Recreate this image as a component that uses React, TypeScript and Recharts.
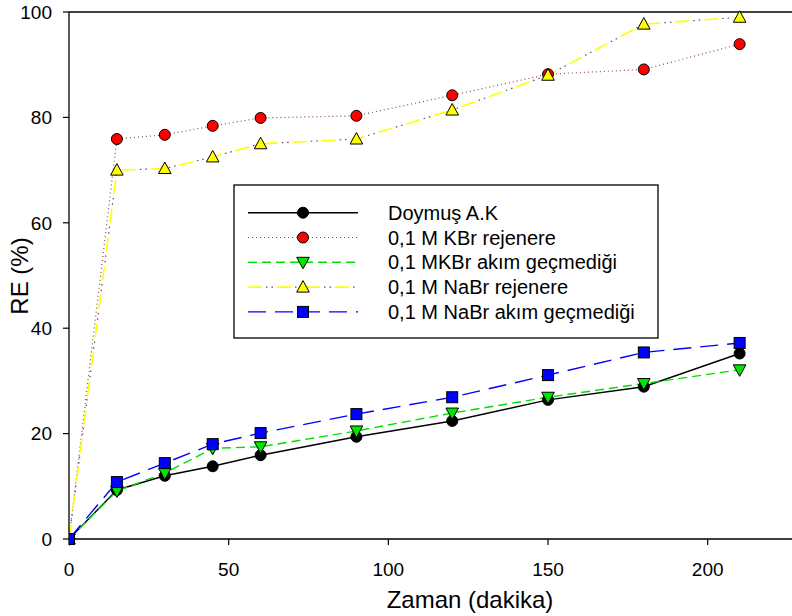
import { LineChart, Line, XAxis, YAxis, ReferenceLine } from "recharts";

// Sampling times (dakika)
const times = [0, 15, 30, 45, 60, 90, 120, 150, 180, 210];

// RE (%) per series
const doymus = [0, 9.3, 12.0, 13.8, 15.9, 19.4, 22.4, 26.4, 28.9, 35.2];
const kbrRejenere = [0, 75.9, 76.7, 78.4, 79.9, 80.3, 84.2, 88.2, 89.1, 93.9];
const kbrAkimYok = [0, 9.1, 12.5, 17.2, 17.5, 20.5, 23.9, 26.9, 29.5, 32.1];
const nabrRejenere = [0, 70.0, 70.3, 72.5, 75.0, 75.9, 81.4, 88.0, 97.7, 99.0];
const nabrAkimYok = [0, 10.8, 14.4, 18.0, 20.1, 23.7, 26.9, 31.1, 35.4, 37.2];

const xTicks = [0, 50, 100, 150, 200];
const yTicks = [0, 20, 40, 60, 80, 100];

const rows = times.map((t, i) => ({
  t,
  doymus: doymus[i],
  kbrRejenere: kbrRejenere[i],
  kbrAkimYok: kbrAkimYok[i],
  nabrRejenere: nabrRejenere[i],
  nabrAkimYok: nabrAkimYok[i],
}));

type Shape = "circle" | "square" | "up" | "down";

interface SeriesStyle {
  key: string;
  name: string;
  stroke: string;
  dash?: string;
  width: number;
  shape: Shape;
  fill: string;
  // second pass of dots laid over the yellow dash pattern
  dotStroke?: string;
  dotDash?: string;
}

const series: SeriesStyle[] = [
  { key: "doymus", name: "Doymuş A.K", stroke: "#000000", width: 1.4, shape: "circle", fill: "#000000" },
  { key: "kbrRejenere", name: "0,1 M KBr rejenere", stroke: "#8a4a4a", dash: "1 3", width: 1.2, shape: "circle", fill: "#ff0000" },
  { key: "kbrAkimYok", name: "0,1 MKBr akım geçmediği", stroke: "#00e000", dash: "9 5", width: 1.4, shape: "down", fill: "#00e600" },
  {
    key: "nabrRejenere", name: "0,1 M NaBr rejenere", stroke: "#ffff00", dash: "14 15", width: 1.6, shape: "up", fill: "#ffff00",
    dotStroke: "#555555", dotDash: "0 18 1.5 4 1.5 4",
  },
  { key: "nabrAkimYok", name: "0,1 M NaBr akım geçmediği", stroke: "#0000ff", dash: "18 9", width: 1.4, shape: "square", fill: "#0000ff" },
];

const FONT = "'Liberation Sans', Arial, sans-serif";

function Marker({ shape, cx, cy, fill }: { shape: Shape; cx: number; cy: number; fill: string }) {
  const common = { fill, stroke: "#000", strokeWidth: 1 };
  if (shape === "circle") return <circle cx={cx} cy={cy} r={5.5} {...common} />;
  if (shape === "square") return <rect x={cx - 5.5} y={cy - 5.5} width={11} height={11} {...common} />;
  if (shape === "up")
    return <polygon points={`${cx},${cy - 6.5} ${cx - 6.3},${cy + 5} ${cx + 6.3},${cy + 5}`} {...common} />;
  return <polygon points={`${cx},${cy + 6.5} ${cx - 6.3},${cy - 5} ${cx + 6.3},${cy - 5}`} {...common} />;
}

function LegendBox() {
  const top = 212.7;
  const step = 24.8;
  return (
    <g>
      <rect x={234} y={185} width={424} height={153} fill="#fff" stroke="#000" strokeWidth={1.3} />
      {series.map((s, i) => {
        const y = top + i * step;
        return (
          <g key={s.key}>
            <line x1={248} x2={358} y1={y} y2={y} stroke={s.stroke} strokeWidth={s.width} strokeDasharray={s.dash} />
            {s.dotDash && (
              <line x1={248} x2={358} y1={y} y2={y} stroke={s.dotStroke} strokeWidth={1.2} strokeDasharray={s.dotDash} />
            )}
            <Marker shape={s.shape} cx={303} cy={y} fill={s.fill} />
            <text x={388} y={y} dy="0.35em" fontSize={20} fontFamily={FONT} fill="#000">
              {s.name}
            </text>
          </g>
        );
      })}
    </g>
  );
}

export default function App() {
  return (
    <div style={{ position: "absolute", left: 0, top: 0, width: 792, height: 616, overflow: "hidden", background: "#fff" }}>
      <LineChart
        width={792}
        height={616}
        data={rows}
        margin={{ top: 12, right: 0, bottom: 0, left: 0 }}
        style={{ fontFamily: FONT }}
      >
        <XAxis
          type="number"
          dataKey="t"
          domain={[0, 226.4]}
          ticks={xTicks}
          height={77}
          tickSize={6}
          tickMargin={18}
          stroke="#000"
          axisLine={{ stroke: "#000", strokeWidth: 1.3 }}
          tickLine={{ stroke: "#000", strokeWidth: 1.2 }}
          tick={{ fill: "#000", fontSize: 19 }}
          allowDataOverflow
        />
        <YAxis
          type="number"
          domain={[0, 100]}
          ticks={yTicks}
          width={69}
          tickSize={6}
          tickMargin={11}
          stroke="#000"
          axisLine={{ stroke: "#000", strokeWidth: 1.3 }}
          tickLine={{ stroke: "#000", strokeWidth: 1.2 }}
          tick={{ fill: "#000", fontSize: 19 }}
        />
        <ReferenceLine y={100} stroke="#000" strokeWidth={1.3} />
        {series.flatMap((s) => {
          const items = [
            <Line
              key={s.key}
              dataKey={s.key}
              stroke={s.stroke}
              strokeWidth={s.width}
              strokeDasharray={s.dash}
              isAnimationActive={false}
              activeDot={false}
              dot={s.dotDash ? false : (p: any) => <Marker key={`${s.key}-${p.index}`} shape={s.shape} cx={p.cx} cy={p.cy} fill={s.fill} />}
            />,
          ];
          if (s.dotDash) {
            items.push(
              <Line
                key={`${s.key}-dots`}
                dataKey={s.key}
                stroke={s.dotStroke}
                strokeWidth={1.2}
                strokeDasharray={s.dotDash}
                isAnimationActive={false}
                activeDot={false}
                dot={(p: any) => <Marker key={`${s.key}-d-${p.index}`} shape={s.shape} cx={p.cx} cy={p.cy} fill={s.fill} />}
              />
            );
          }
          return items;
        })}
      </LineChart>
      <svg width={792} height={616} style={{ position: "absolute", left: 0, top: 0, pointerEvents: "none" }}>
        <text x={470} y={608} textAnchor="middle" fontSize={24} fontFamily={FONT} fill="#000">
          Zaman (dakika)
        </text>
        <text transform="translate(28,276) rotate(-90)" textAnchor="middle" fontSize={24} fontFamily={FONT} fill="#000">
          RE (%)
        </text>
        <LegendBox />
      </svg>
    </div>
  );
}
